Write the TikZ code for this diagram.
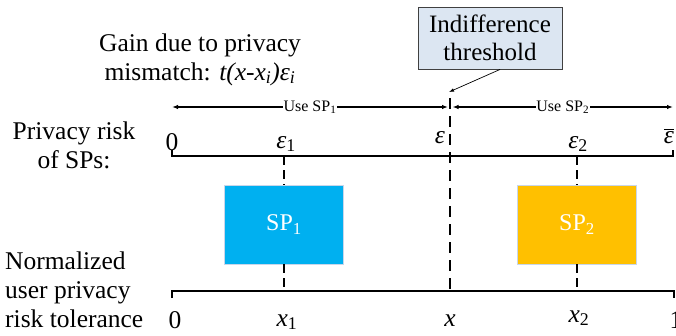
\documentclass[tikz,border=0pt]{standalone}
\usepackage{fontspec}
\setmainfont{Liberation Serif}
\usetikzlibrary{arrows.meta}
\definecolor{spblue}{HTML}{00B0F0}
\definecolor{spgold}{HTML}{FFC000}
\definecolor{notefill}{HTML}{DCE6F2}
\definecolor{boxedge}{HTML}{C8D6EA}
\newcommand{\eps}{\textit{ε}}

\begin{document}
\begin{tikzpicture}[x=1pt,y=-1pt,
  big/.style={font=\fontsize{25.5}{29}\selectfont, inner sep=0pt},
  axis/.style={line width=1.2pt},
  guide/.style={line width=1.3pt, dash pattern=on 11pt off 7pt},
  span/.style={line width=1.2pt, {Latex[length=6pt,width=4.5pt]}-{Latex[length=6pt,width=4.5pt]}},
  usetext/.style={font=\fontsize{16}{18}\selectfont, fill=white, inner sep=0.5pt},
  spbox/.style={minimum width=119pt, minimum height=79pt, inner sep=0pt,
    draw=boxedge, line width=0.8pt, text=white, font=\fontsize{24}{26}\selectfont},
  note/.style={draw=black!75, line width=0.9pt, fill=notefill, align=center,
    minimum width=144pt, minimum height=62pt, inner sep=0pt,
    font=\fontsize{25}{28}\selectfont}]
\useasboundingbox (0,0) rectangle (676,335);

% axes
\coordinate (ta) at (172,156);
\coordinate (tb) at (673,156);
\coordinate (ba) at (172,291);
\coordinate (bb) at (674,291);
\draw[axis] ([yshift=6pt]ta) -- (ta) -- (tb) -- ([yshift=6pt]tb);
\draw[axis] ([yshift=-7pt]ba) -- (ba) -- (bb) -- ([yshift=-7pt]bb);

% service providers
\node[spbox, fill=spblue] (sp1) at (284,224.5) {SP\textsubscript{1}};
\node[spbox, fill=spgold] (sp2) at (577,224.5) {SP\textsubscript{2}};
\draw[guide, dash pattern=on 9pt off 5pt] (sp1.north |- ta) -- (sp1.north);
\draw[guide, dash pattern=on 9pt off 5pt] (sp1.south) -- (sp1.south |- ba);
\draw[guide, dash pattern=on 9pt off 5pt] (sp2.north |- ta) -- (sp2.north);
\draw[guide, dash pattern=on 9pt off 5pt] (sp2.south) -- (sp2.south |- ba);

% indifference threshold
\coordinate (thtop) at (450,98);
\coordinate (thbot) at (450,291);
\draw[guide] (thtop) -- (thbot);
\node[note] (th) at (490,38) {Indifference\\threshold};
\coordinate (thpt) at (449,92);
\draw[line width=0.7pt, -{Latex[length=5pt,width=3.5pt]}] ([xshift=10pt]th.south) -- (thpt);

% choice ranges
\coordinate (ul) at (172,107);
\coordinate (um) at (448,107);
\coordinate (un) at (452.5,107);
\coordinate (ur) at (673,107);
\draw[span] (ul) -- node[usetext] (use1) {Use SP\textsubscript{1}} (um);
\draw[span] (un) -- node[usetext] (use2) {Use SP\textsubscript{2}} (ur);

% privacy risk scale
\node[big, anchor=base] (r0) at (172,150) {0};
\node[big, anchor=base] (re1) at (286,148) {\eps\textsubscript{1}};
\node[big, anchor=base] (re) at (440,143) {\eps};
\node[big, anchor=base] (re2) at (578,148) {\eps\textsubscript{2}};
\node[big, anchor=base] (rmax) at (669,143) {$\overline{\hbox{\eps}}$};

% tolerance scale
\node[big, anchor=base] (x0) at (175,328) {0};
\node[big, anchor=base] (x1) at (287,326) {\textit{x}\textsubscript{1}};
\node[big, anchor=base] (xx) at (450,326) {\textit{x}};
\node[big, anchor=base] (x2) at (579,322) {\textit{x}\textsubscript{2}};
\node[big, anchor=base] (x3) at (676,328) {1};

% captions (base anchor sits on the last line)
\node[big, align=center, anchor=base] (gain) at (200,80)
  {Gain due to privacy\\mismatch: \textit{t(x-x}\textsubscript{\textit{i}}\textit{)}\eps\textsubscript{\textit{i}}};
\node[big, align=center, anchor=base] (risk) at (74,168) {Privacy risk\\of SPs:};
\node[big, align=left, anchor=base west] (tol) at (5,327) {Normalized\\user privacy\\risk tolerance};
\end{tikzpicture}
\end{document}
